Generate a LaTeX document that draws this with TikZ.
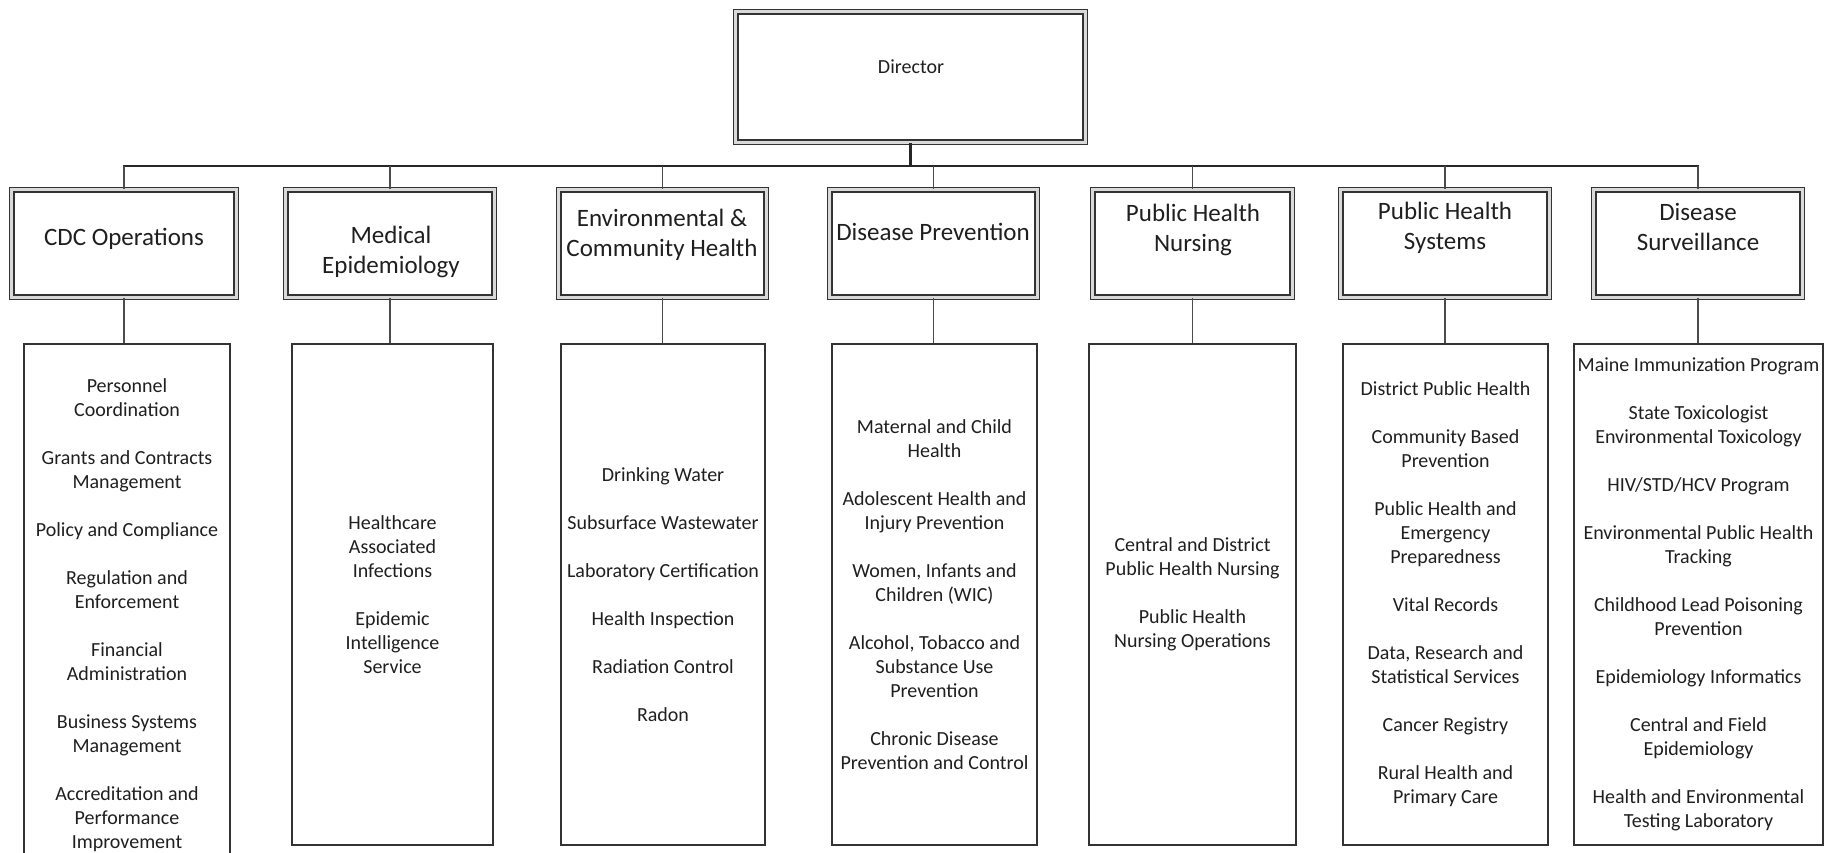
\documentclass[tikz,border=0pt]{standalone}
\usepackage{fontspec}
\setmainfont{Carlito}
\begin{document}
\begin{tikzpicture}[x=0.5pt,y=-0.5pt,
  hbox/.style={draw=black!80, line width=0.6pt, double=black!15, double distance=1.6pt, inner sep=0pt, minimum height=53.7pt},
  sbox/.style={draw=black!80, line width=0.6pt, inner sep=0pt, minimum height=250.5pt, align=center, text=black!88, font=\fontsize{10}{12}\selectfont},
  htext/.style={align=center, text=black!88, font=\fontsize{12.5}{14.7}\selectfont, inner sep=0pt},
  conn/.style={draw=black!70, line width=0.6pt},
  busline/.style={draw=black!85, line width=1.1pt, line cap=rect},
  dirline/.style={draw=black!85, line width=1.6pt}
]
\useasboundingbox (0,0) rectangle (1836,852);

% Director
\node[hbox, minimum width=174.7pt, minimum height=65.2pt] (dir) at (910.5,77) {};
\node[htext, font=\fontsize{10}{12}\selectfont] (dirt) at (911,67) {Director};

% Division boxes
\node[hbox, minimum width=112.2pt] (cdc) at (124,243.5) {};
\node[hbox, minimum width=104.2pt] (med) at (390,243.5) {};
\node[hbox, minimum width=103.7pt] (env) at (662.5,243.5) {};
\node[hbox, minimum width=103.7pt] (dp)  at (933.5,243.5) {};
\node[hbox, minimum width=99.7pt]  (phn) at (1192.5,243.5) {};
\node[hbox, minimum width=104.2pt] (phs) at (1445,243.5) {};
\node[hbox, minimum width=104.2pt] (ds)  at (1698,243.5) {};

\node[htext] (cdct) at (124,239) {CDC Operations};
\node[htext] (medt) at (391,252) {Medical\\Epidemiology};
\node[htext] (envt) at (662,235) {Environmental \&\\Community Health};
\node[htext] (dpt)  at (933,232) {Disease Prevention};
\node[htext] (phnt) at (1193,230) {Public Health\\Nursing};
\node[htext] (phst) at (1445,228) {Public Health\\Systems};
\node[htext] (dst)  at (1698,227) {Disease\\Surveillance};

% Program boxes
\node[sbox, minimum width=103pt, minimum height=271pt] (cdcS) at (127,615) {Personnel\\Coordination\\[12pt]Grants and Contracts\\Management\\[12pt]Policy and Compliance\\[12pt]Regulation and\\Enforcement\\[12pt]Financial\\Administration\\[12pt]Business Systems\\Management\\[12pt]Accreditation and\\Performance\\Improvement};
\node[sbox, minimum width=100.5pt] (medS) at (392.5,594.5) {Healthcare\\Associated\\Infections\\[12pt]Epidemic\\Intelligence\\Service};
\node[sbox, minimum width=102pt] (envS) at (663,594.5) {Drinking Water\\[12pt]Subsurface Wastewater\\[12pt]Laboratory Certification\\[12pt]Health Inspection\\[12pt]Radiation Control\\[12pt]Radon};
\node[sbox, minimum width=102.5pt] (dpS) at (934.5,594.5) {Maternal and Child\\Health\\[12pt]Adolescent Health and\\Injury Prevention\\[12pt]Women, Infants and\\Children (WIC)\\[12pt]Alcohol, Tobacco and\\Substance Use\\Prevention\\[12pt]Chronic Disease\\Prevention and Control};
\node[sbox, minimum width=103.5pt] (phnS) at (1192.5,594.5) {Central and District\\Public Health Nursing\\[12pt]Public Health\\Nursing Operations};
\node[sbox, minimum width=102.5pt] (phsS) at (1445.5,594.5) {District Public Health\\[12pt]Community Based\\Prevention\\[12pt]Public Health and\\Emergency\\Preparedness\\[12pt]Vital Records\\[12pt]Data, Research and\\Statistical Services\\[12pt]Cancer Registry\\[12pt]Rural Health and\\Primary Care};
\node[sbox, minimum width=124.5pt] (dsS) at (1698.5,594.5) {Maine Immunization Program\\[12pt]State Toxicologist\\Environmental Toxicology\\[12pt]HIV/STD/HCV Program\\[12pt]Environmental Public Health\\Tracking\\[12pt]Childhood Lead Poisoning\\Prevention\\[12pt]Epidemiology Informatics\\[12pt]Central and Field\\Epidemiology\\[12pt]Health and Environmental\\Testing Laboratory};

% Connectors
\coordinate (busL) at (124,166);
\coordinate (busR) at (1698,166);
\draw[busline] (busL) -- (busR);
\draw[dirline] (dir.south) -- (dir.south |- busL);
\foreach \n in {cdc,med,env,dp,phn,phs,ds}{
  \draw[conn] (\n.north) -- (\n.north |- busL);
  \draw[conn] (\n.south) -- (\n.south |- \n S.north);
}
\end{tikzpicture}
\end{document}
